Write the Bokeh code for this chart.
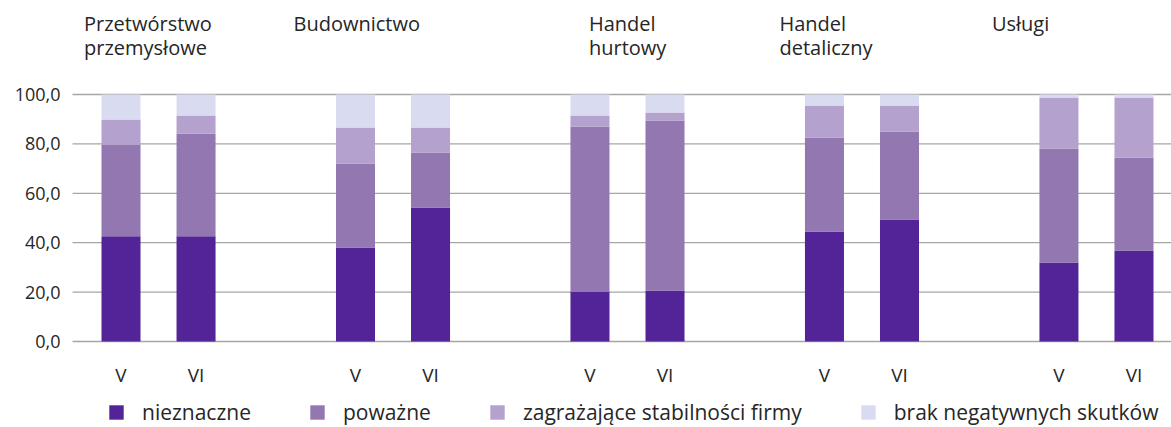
from bokeh.plotting import figure
from bokeh.models import ColumnDataSource, Range1d, Legend, LegendItem
from bokeh.core.properties import value
from bokeh.embed import file_html
from bokeh.resources import INLINE

# ---- data -------------------------------------------------------------
groups = ["Przetwórstwo\nprzemysłowe", "Budownictwo", "Handel\nhurtowy",
          "Handel\ndetaliczny", "Usługi"]
periods = ["V", "VI"]

nieznaczne = [42.6, 42.6, 38.1, 54.3, 20.2, 20.6, 44.5, 49.4, 32.0, 36.8]
powazne = [37.2, 41.6, 34.0, 22.2, 66.8, 68.9, 38.1, 35.6, 46.1, 37.7]
zagrazajace = [10.1, 7.3, 14.5, 10.1, 4.5, 3.2, 12.9, 10.5, 20.7, 24.3]
brak = [10.1, 8.5, 13.4, 13.4, 8.5, 7.3, 4.5, 4.5, 1.2, 1.2]

series_names = ["nieznaczne", "poważne", "zagrażające stabilności firmy",
                "brak negatywnych skutków"]
y_ticks = [0, 20, 40, 60, 80, 100]

# ---- layout / styles --------------------------------------------------
colors = ["#522497", "#9377b1", "#b4a1cd", "#d9dcf0"]
FONT = "Open Sans"
TXT = "#262626"
group_gap = 1.125                      # empty slot between groups
step = len(periods) + group_gap
label_dx = [-37, -62, -1, -45, -67]    # group title left edge vs. "V" bar
x_start, x_axis, x_end = -1.606, -0.646, 14.0
y_start, y_end = -34.82, 138.06
title_y = 134.3
tick_y = -13.7

# positions on the linear scale, derived from the category indices
xs = [k * step + j for k in range(len(groups)) for j in range(len(periods))]
tick_text = [s for _ in groups for s in periods]
group_x = [k * step for k in range(len(groups))]
y_tick_text = [f"{t:.1f}".replace(".", ",") for t in y_ticks]

keys = ["nieznaczne", "powazne", "zagrazajace", "brak"]
source = ColumnDataSource(data=dict(x=xs, nieznaczne=nieznaczne,
                                    powazne=powazne, zagrazajace=zagrazajace,
                                    brak=brak))

p = figure(x_range=Range1d(x_start, x_end), y_range=Range1d(y_start, y_end),
           width=1171, height=427, output_backend="svg", toolbar_location=None,
           x_axis_location=None, y_axis_location=None, min_border=0)
p.outline_line_color = None
p.grid.visible = False

# horizontal grid lines
gsrc = ColumnDataSource(data=dict(y=y_ticks, x0=[x_axis] * len(y_ticks),
                                  x1=[x_end] * len(y_ticks), lab=y_tick_text))
p.segment(x0="x0", y0="y", x1="x1", y1="y", source=gsrc,
          line_color="#a6a6a6", line_width=1.3)
p.text(x="x0", y="y", text="lab", source=gsrc, x_offset=-12,
       text_font=value(FONT), text_font_size="18px", text_color=TXT,
       text_align="right", text_baseline="middle")

# stacked bars
rs = p.vbar_stack(keys, x="x", width=0.52, color=colors, source=source,
                  line_color=None)

# period labels under bars
xsrc = ColumnDataSource(data=dict(x=xs, y=[tick_y] * len(xs), t=tick_text))
p.text(x="x", y="y", text="t", source=xsrc,
       text_font=value(FONT), text_font_size="19px", text_color=TXT,
       text_align="center", text_baseline="middle")

# group titles
tsrc = ColumnDataSource(data=dict(x=group_x, y=[title_y] * len(groups),
                                  text=groups, dx=label_dx))
p.text(x="x", y="y", text="text", x_offset="dx", source=tsrc,
       text_font=value(FONT), text_font_size="20px", text_color=TXT,
       text_baseline="top", text_align="left", text_line_height=0.9)

legend = Legend(items=[LegendItem(label=n, renderers=[r])
                       for n, r in zip(series_names, rs)],
                orientation="horizontal", location=(107, 1),
                glyph_width=18, glyph_height=18, label_standoff=17,
                spacing=57, padding=0, margin=0,
                border_line_color=None, background_fill_alpha=0,
                label_text_font=FONT, label_text_font_size="21px",
                label_text_color=TXT, label_height=20)
p.add_layout(legend, "center")

open("out.html", "w").write(file_html(p, INLINE))
